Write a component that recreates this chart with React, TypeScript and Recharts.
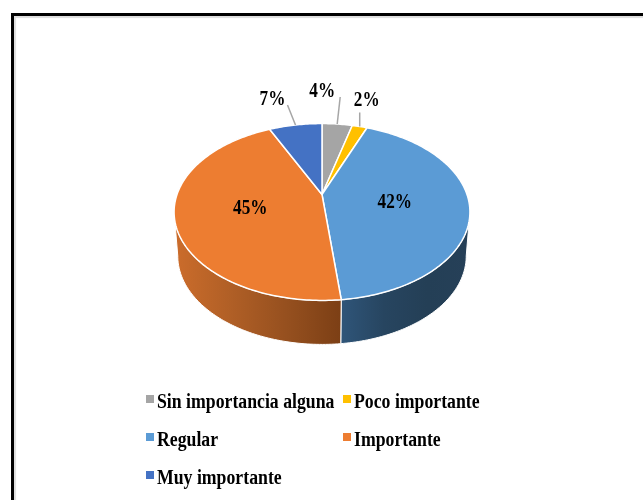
import React from "react";
import { PieChart, Pie, Legend } from "recharts";

const categories = ["Sin importancia alguna", "Poco importante", "Regular", "Importante", "Muy importante"];
const values = [4, 2, 42.3, 44.7, 7];
const colors = ["#A5A5A5", "#FFC000", "#5B9BD5", "#ED7D31", "#4472C4"];
const rows = categories.map((name, i) => ({ name, value: values[i], fill: colors[i] }));

// Layout of the tilted disc
const CX = 322, CY = 194.5, R = 145;
const PERSP = 0.1977, TILT = 0.586, DEPTH = 44, BOTTOM_SX = 0.975;
const FONT = "'Liberation Serif', 'Times New Roman', serif";
const RAD = Math.PI / 180;

const project = (deg: number, r = 1) => {
  const X = r * Math.sin(deg * RAD), Y = r * Math.cos(deg * RAD);
  const d = 1 + PERSP * Y;
  return { x: CX + (R * X) / d, y: CY - (R * TILT * Y) / d };
};
const sweep = (a: number, b: number) => {
  const out: number[] = [];
  const n = Math.max(1, Math.ceil(Math.abs(b - a)));
  for (let i = 0; i <= n; i++) out.push(a + ((b - a) * i) / n);
  return out;
};
const toClock = (angle: number) => 90 - angle;

const TopSector = (p: any) => {
  const pts = sweep(toClock(p.startAngle), toClock(p.endAngle)).map((t) => project(t));
  const d = `M${CX},${CY}` + pts.map((q) => `L${q.x.toFixed(2)},${q.y.toFixed(2)}`).join("") + "Z";
  return <path d={d} fill={p.fill} stroke="#fff" strokeWidth={1.5} strokeLinejoin="round" />;
};

const wallStops: Record<number, [number, number, string[]]> = {
  2: [341, 470, ["#2F5579", "#274560", "#243F56", "#264058"]],
  3: [176, 341, ["#CB6C2B", "#B05F26", "#96501F", "#7C3F15"]],
};

const WallSector = (p: any) => {
  const a = Math.max(toClock(p.startAngle), 101.4);
  const b = Math.min(toClock(p.endAngle), 258.6);
  const stops = wallStops[p.index];
  if (a >= b || !stops) return <g />;
  const top = sweep(a, b).map((t) => project(t));
  const bottom = top.map((q) => ({ x: CX + (q.x - CX) * BOTTOM_SX, y: q.y + DEPTH })).reverse();
  const d = "M" + [...top, ...bottom].map((q) => `${q.x.toFixed(2)},${q.y.toFixed(2)}`).join("L") + "Z";
  const id = `wall-${p.index}`;
  return (
    <g>
      <defs>
        <linearGradient id={id} gradientUnits="userSpaceOnUse" x1={stops[0]} x2={stops[1]} y1={0} y2={0}>
          {stops[2].map((c, i) => (
            <stop key={i} offset={i / (stops[2].length - 1)} stopColor={c} />
          ))}
        </linearGradient>
      </defs>
      <path d={d} fill={`url(#${id})`} stroke="#fff" strokeWidth={1} />
    </g>
  );
};

// Per-slice label placement: inside labels sit at half radius, outside ones get a leader
const outsideLabels: Record<number, { elbow: [number, number]; text: [number, number] }> = {
  0: { elbow: [3, -27], text: [-15, -34] },
  1: { elbow: [0, -14], text: [7, -28] },
  4: { elbow: [-8, -20], text: [-23, -27] },
};

const SliceLabel = (p: any) => {
  const mid = toClock(p.midAngle);
  const o = outsideLabels[p.index];
  const rim = project(mid);
  const pos = o ? { x: rim.x + o.text[0], y: rim.y + o.text[1] } : project(mid, 0.5);
  return (
    <g>
      {o && (
        <line x1={rim.x} y1={rim.y} x2={rim.x + o.elbow[0]} y2={rim.y + o.elbow[1]} stroke="#A6A6A6" strokeWidth={1.5} />
      )}
      <text
        transform={`translate(${pos.x},${pos.y + (o ? 0 : 1)}) scale(0.82,1)`}
        textAnchor="middle"
        dominantBaseline="central"
        fontFamily={FONT}
        fontWeight="bold"
        fontSize={21}
        fill="#000"
      >
        {`${Math.round(p.value)}%`}
      </text>
    </g>
  );
};

const LegendBox = ({ payload }: any) => (
  <div style={{ display: "grid", gridTemplateColumns: "196.5px 197px", gridAutoRows: "38px", paddingLeft: 146 }}>
    {(payload || [])
      .filter((e: any) => e.type !== "none")
      .map((e: any) => (
        <div key={e.value} style={{ display: "flex", alignItems: "center", whiteSpace: "nowrap" }}>
          <span style={{ width: 8, height: 8, background: e.color, marginRight: 3, marginTop: -4, flex: "none" }} />
          <span
            style={{
              fontFamily: FONT,
              fontWeight: "bold",
              fontSize: 20,
              color: "#000",
              transform: "scaleX(0.887)",
              transformOrigin: "left center",
              display: "inline-block",
            }}
          >
            {e.value}
          </span>
        </div>
      ))}
  </div>
);

export default function App() {
  return (
    <div style={{ position: "absolute", left: 0, top: 0, width: 643, height: 500, overflow: "hidden", background: "#fff" }}>
      <div
        style={{
          position: "absolute",
          left: 11,
          top: 13,
          width: 700,
          height: 600,
          borderTop: "3px solid #000",
          borderLeft: "3px solid #000",
          boxShadow: "inset 2px 2px 1px #ddd",
        }}
      />
      <div style={{ position: "absolute", left: 0, top: 0, filter: "blur(0.35px)" }}>
        <PieChart width={643} height={500} margin={{ top: 0, right: 0, bottom: 0, left: 0 }}>
          <Pie
            data={rows}
            dataKey="value"
            nameKey="name"
            cx={CX}
            cy={CY}
            outerRadius={R}
            startAngle={90}
            endAngle={-270}
            isAnimationActive={false}
            legendType="none"
            shape={WallSector}
            label={false}
            labelLine={false}
          />
          <Pie
            data={rows}
            dataKey="value"
            nameKey="name"
            cx={CX}
            cy={CY}
            outerRadius={R}
            startAngle={90}
            endAngle={-270}
            isAnimationActive={false}
            legendType="square"
            shape={TopSector}
            label={SliceLabel}
            labelLine={false}
          />
          <Legend content={LegendBox} itemSorter={null} wrapperStyle={{ left: 0, top: 382, width: 643, height: 114 }} />
        </PieChart>
      </div>
    </div>
  );
}
